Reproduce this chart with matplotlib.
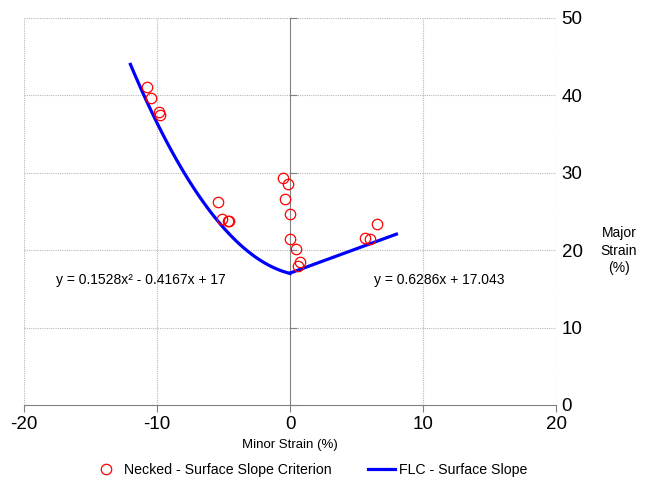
import numpy as np
import matplotlib
matplotlib.use("Agg")
import matplotlib.pyplot as plt
from matplotlib.lines import Line2D

plt.rcParams['font.family'] = ['Liberation Sans', 'DejaVu Sans']
plt.rcParams['axes.unicode_minus'] = False

# measured points (minor strain, major strain) in %
minor_strain = [-10.78, -10.47, -9.82, -9.77, -5.39, -5.14, -4.69, -4.56,
                -0.53, -0.17, -0.38, 0.02, 0.0, 0.47, 0.75, 0.63,
                5.64, 6.0, 6.57]
major_strain = [41.1, 39.7, 37.8, 37.5, 26.2, 24.0, 23.8, 23.8,
                29.3, 28.6, 26.6, 24.7, 21.4, 20.1, 18.5, 17.9,
                21.6, 21.5, 23.4]

# FLC fit coefficients as printed on the chart
left_coef = [0.1528, -0.4167, 17]
right_coef = [0.6286, 17.043]
left_range = [-12, 0]
right_range = [0, 8]

fig = plt.figure(figsize=(6.46, 4.79), dpi=100)
ax = fig.add_axes([0.0372, 0.1545, 0.8235, 0.808])

xl = np.linspace(left_range[0], left_range[1], 100)
xr = np.linspace(right_range[0], right_range[1], 20)
ax.plot(xl, np.polyval(left_coef, xl), color='#0000ff', lw=2.3, zorder=3)
ax.plot(xr, np.polyval(right_coef, xr), color='#0000ff', lw=2.3, zorder=3)
ax.plot(minor_strain, major_strain, 'o', mfc='none', mec='#ff0000', ms=7.5, mew=0.9, zorder=4)

ax.set_xlim(-20, 20)
ax.set_ylim(0, 50)
ax.set_xticks([-20, -10, 0, 10, 20])
ax.set_yticks([0, 10, 20, 30, 40, 50])

# grid
for gx in [-20, -10, 10, 20]:
    ax.axvline(gx, color='#b8b8b8', lw=0.8, ls=(0, (1, 1)), zorder=1)
for gy in [10, 20, 30, 40, 50]:
    ax.axhline(gy, color='#b8b8b8', lw=0.8, ls=(0, (1, 1)), zorder=1)

for s in ['top', 'right']:
    ax.spines[s].set_visible(False)
ax.spines['left'].set_position(('data', 0))
ax.spines['left'].set_color('#808080')
ax.spines['bottom'].set_color('#808080')
ax.spines['left'].set_zorder(2)

ax.tick_params(axis='x', direction='out', length=5, color='#808080', labelsize=13.5, pad=3)
ax.tick_params(axis='y', left=True, right=False, labelleft=False, labelright=True,
               direction='in', length=5, color='#808080', labelsize=13.5, pad=4)

ax.set_xlabel('Minor Strain (%)', fontsize=9.5, labelpad=4)
fig.text(0.958, 0.477, 'Major\nStrain\n(%)', ha='center', va='center', fontsize=10, linespacing=1.35)

ax.text(-17.6, 16.2, 'y = 0.1528x² - 0.4167x + 17', fontsize=10, va='center')
ax.text(6.3, 16.2, 'y = 0.6286x + 17.043', fontsize=10, va='center')

handles = [Line2D([], [], ls='none', marker='o', mfc='none', mec='#ff0000', ms=7.5, mew=0.9),
           Line2D([], [], color='#0000ff', lw=2.3)]
fig.legend(handles, ['Necked - Surface Slope Criterion', 'FLC - Surface Slope'],
           loc='center', bbox_to_anchor=(0.48, 0.018), ncol=2, frameon=False,
           fontsize=10.2, handlelength=1.9, columnspacing=2.6, handletextpad=0.3)

fig.savefig('out.png', dpi=100)
